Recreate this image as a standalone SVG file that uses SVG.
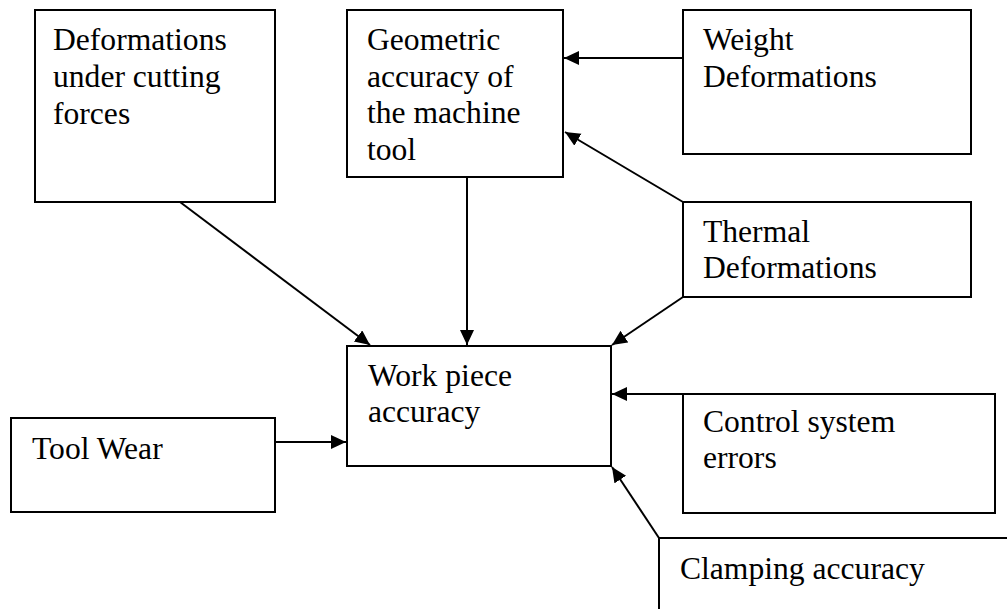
<svg xmlns="http://www.w3.org/2000/svg" width="1007" height="609" viewBox="0 0 1007 609">
<style>
.box{fill:#fff;stroke:#000;stroke-width:2}
.lbl{font-family:"Liberation Serif","Times New Roman",serif;font-size:31.6px;fill:#000}
.conn{stroke:#000;stroke-width:2;fill:none;marker-end:url(#arr)}
</style>
<defs>
<marker id="arr" markerUnits="userSpaceOnUse" markerWidth="16" markerHeight="16" refX="15" refY="7" orient="auto">
<path d="M0,0 L15,7 L0,14 z" fill="#000"/>
</marker>
</defs>
<rect width="1007" height="609" fill="#fff"/>
<g id="deformations-cutting">
<rect class="box" x="35" y="10" width="240" height="192"/>
<text class="lbl" x="53" y="50">Deformations</text>
<text class="lbl" x="53" y="87">under cutting</text>
<text class="lbl" x="53" y="124">forces</text>
</g>
<g id="geometric-accuracy">
<rect class="box" x="347" y="10" width="216" height="167"/>
<text class="lbl" x="367" y="50">Geometric</text>
<text class="lbl" x="367" y="87">accuracy of</text>
<text class="lbl" x="367" y="123">the machine</text>
<text class="lbl" x="367" y="160">tool</text>
</g>
<g id="weight-deformations">
<rect class="box" x="683" y="10" width="288" height="144"/>
<text class="lbl" x="703" y="50">Weight</text>
<text class="lbl" x="703" y="87">Deformations</text>
</g>
<g id="thermal-deformations">
<rect class="box" x="683" y="202" width="288" height="95"/>
<text class="lbl" x="703" y="242">Thermal</text>
<text class="lbl" x="703" y="278">Deformations</text>
</g>
<g id="workpiece-accuracy">
<rect class="box" x="347" y="346" width="264" height="120"/>
<text class="lbl" x="368" y="386">Work piece</text>
<text class="lbl" x="368" y="422">accuracy</text>
</g>
<g id="tool-wear">
<rect class="box" x="11" y="418" width="264" height="94"/>
<text class="lbl" x="32" y="459">Tool Wear</text>
</g>
<g id="control-system-errors">
<rect class="box" x="683" y="394" width="312" height="119"/>
<text class="lbl" x="703" y="432">Control system</text>
<text class="lbl" x="703" y="468">errors</text>
</g>
<g id="clamping-accuracy">
<path d="M659,612 L659,538 L1010,538" fill="none" stroke="#000" stroke-width="2"/>
<text class="lbl" x="680" y="579">Clamping accuracy</text>
</g>
<g id="connectors">
<line class="conn" x1="683" y1="58" x2="564" y2="58"/>
<line class="conn" x1="683" y1="202" x2="565" y2="132"/>
<line class="conn" x1="467" y1="177" x2="467" y2="345"/>
<line class="conn" x1="180" y1="202" x2="370" y2="345"/>
<line class="conn" x1="683" y1="297" x2="612" y2="345"/>
<line class="conn" x1="683" y1="394" x2="612" y2="394"/>
<line class="conn" x1="275" y1="442" x2="346" y2="442"/>
<line class="conn" x1="659" y1="538" x2="612" y2="467"/>
</g>
</svg>
